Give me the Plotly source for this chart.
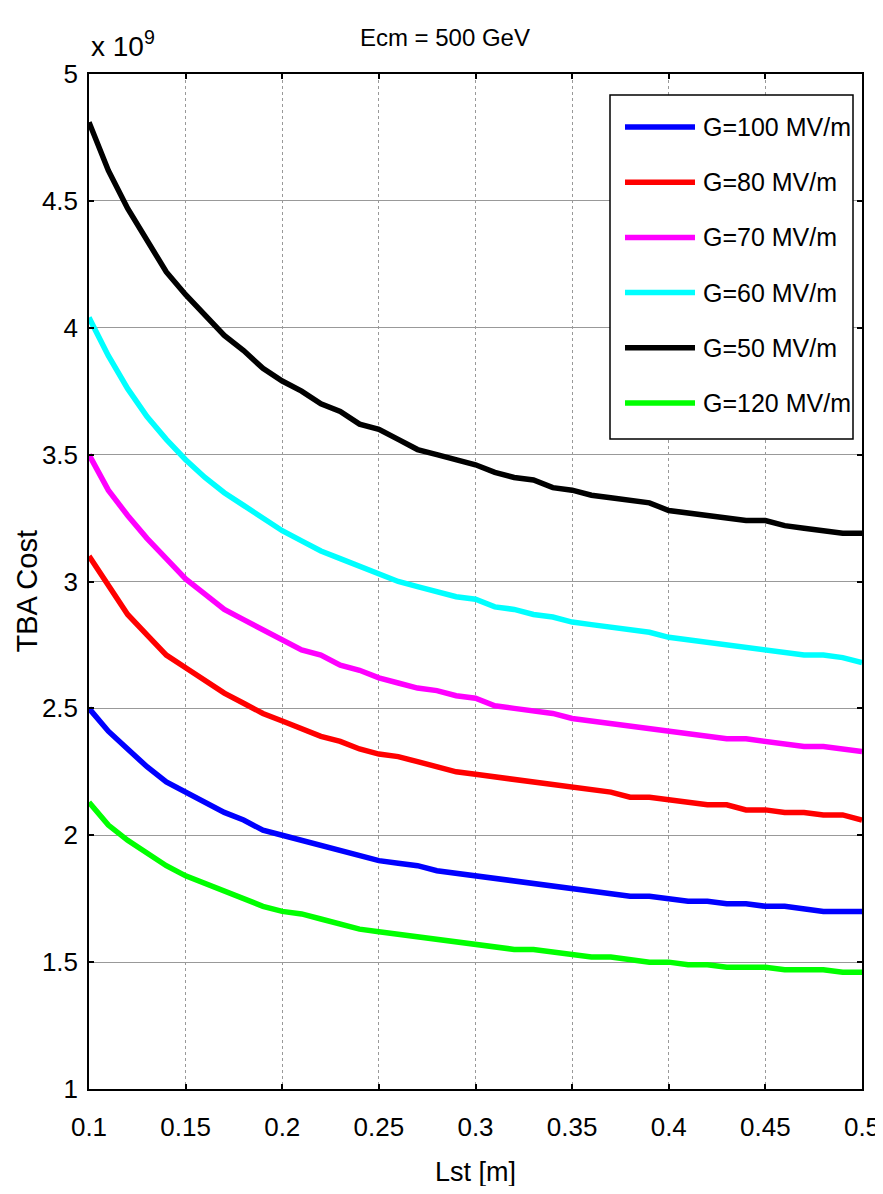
import plotly.graph_objects as go

# Lst [m]
lst = [round(0.10 + 0.01 * i, 2) for i in range(41)]

# TBA cost in units of 1e9
g100 = [2.50, 2.41, 2.34, 2.27, 2.21, 2.17, 2.13, 2.09, 2.06, 2.02, 2.00, 1.98, 1.96, 1.94, 1.92, 1.90,
        1.89, 1.88, 1.86, 1.85, 1.84, 1.83, 1.82, 1.81, 1.80, 1.79, 1.78, 1.77, 1.76, 1.76, 1.75, 1.74,
        1.74, 1.73, 1.73, 1.72, 1.72, 1.71, 1.70, 1.70, 1.70]
g80 = [3.10, 2.98, 2.87, 2.79, 2.71, 2.66, 2.61, 2.56, 2.52, 2.48, 2.45, 2.42, 2.39, 2.37, 2.34, 2.32,
       2.31, 2.29, 2.27, 2.25, 2.24, 2.23, 2.22, 2.21, 2.20, 2.19, 2.18, 2.17, 2.15, 2.15, 2.14, 2.13,
       2.12, 2.12, 2.10, 2.10, 2.09, 2.09, 2.08, 2.08, 2.06]
g70 = [3.50, 3.36, 3.26, 3.17, 3.09, 3.01, 2.95, 2.89, 2.85, 2.81, 2.77, 2.73, 2.71, 2.67, 2.65, 2.62,
       2.60, 2.58, 2.57, 2.55, 2.54, 2.51, 2.50, 2.49, 2.48, 2.46, 2.45, 2.44, 2.43, 2.42, 2.41, 2.40,
       2.39, 2.38, 2.38, 2.37, 2.36, 2.35, 2.35, 2.34, 2.33]
g60 = [4.04, 3.89, 3.76, 3.65, 3.56, 3.48, 3.41, 3.35, 3.30, 3.25, 3.20, 3.16, 3.12, 3.09, 3.06, 3.03,
       3.00, 2.98, 2.96, 2.94, 2.93, 2.90, 2.89, 2.87, 2.86, 2.84, 2.83, 2.82, 2.81, 2.80, 2.78, 2.77,
       2.76, 2.75, 2.74, 2.73, 2.72, 2.71, 2.71, 2.70, 2.68]
g50 = [4.81, 4.62, 4.47, 4.34, 4.22, 4.13, 4.05, 3.97, 3.91, 3.84, 3.79, 3.75, 3.70, 3.67, 3.62, 3.60,
       3.56, 3.52, 3.50, 3.48, 3.46, 3.43, 3.41, 3.40, 3.37, 3.36, 3.34, 3.33, 3.32, 3.31, 3.28, 3.27,
       3.26, 3.25, 3.24, 3.24, 3.22, 3.21, 3.20, 3.19, 3.19]
g120 = [2.13, 2.04, 1.98, 1.93, 1.88, 1.84, 1.81, 1.78, 1.75, 1.72, 1.70, 1.69, 1.67, 1.65, 1.63, 1.62,
        1.61, 1.60, 1.59, 1.58, 1.57, 1.56, 1.55, 1.55, 1.54, 1.53, 1.52, 1.52, 1.51, 1.50, 1.50, 1.49,
        1.49, 1.48, 1.48, 1.48, 1.47, 1.47, 1.47, 1.46, 1.46]

series_names = ["G=100 MV/m", "G=80 MV/m", "G=70 MV/m", "G=60 MV/m", "G=50 MV/m", "G=120 MV/m"]
series_values = [g100, g80, g70, g60, g50, g120]
series_colors = ["#0000ff", "#ff0000", "#ff00ff", "#00ffff", "#000000", "#00ff00"]

x_ticks = [0.1, 0.15, 0.2, 0.25, 0.3, 0.35, 0.4, 0.45, 0.5]
x_ticktext = ["0.1", "0.15", "0.2", "0.25", "0.3", "0.35", "0.4", "0.45", "0.5"]
y_ticks = [1, 1.5, 2, 2.5, 3, 3.5, 4, 4.5, 5]
y_ticktext = ["1", "1.5", "2", "2.5", "3", "3.5", "4", "4.5", "5"]

FONT = "Liberation Sans Narrow, Arial Narrow, Liberation Sans, Arial, sans-serif"
REG = "Liberation Sans, Arial, sans-serif"

# figure geometry (page has an 8px body margin)
W, H = 875, 1178
ML, MT, PW, PH = 81, 66, 773, 1015


def px_x(fx):
    return (fx - ML) / PW


def px_y(fy):
    return 1 - (fy - MT) / PH


fig = go.Figure()
for name, vals, color in zip(series_names, series_values, series_colors):
    fig.add_trace(go.Scatter(x=lst, y=vals, mode="lines", name=name,
                             line=dict(color=color, width=5.5)))

fig.update_layout(
    width=W, height=H,
    margin=dict(l=ML, r=W - ML - PW, t=MT, b=H - MT - PH),
    paper_bgcolor="white", plot_bgcolor="white",
    font=dict(family=FONT, color="black", size=26),
    title=dict(text="Ecm = 500 GeV", x=px_x(467), xanchor="center", y=1 - 30 / H, yanchor="middle",
               font=dict(family=FONT, size=24, color="black")),
    showlegend=False,
)

fig.update_xaxes(range=[0.1, 0.5], tickvals=x_ticks, ticktext=x_ticktext,
                 showline=True, linecolor="black", linewidth=1.5, mirror="ticks",
                 ticks="inside", ticklen=5, tickcolor="black", tickwidth=2,
                 showgrid=True, gridcolor="#999999", griddash="dot", gridwidth=1,
                 zeroline=False, ticklabelstandoff=14, automargin=False,
                 tickfont=dict(family=FONT, size=26))
fig.update_yaxes(range=[1, 5], tickvals=y_ticks, ticktext=y_ticktext,
                 showline=True, linecolor="black", linewidth=1.5, mirror="ticks",
                 ticks="inside", ticklen=5, tickcolor="black", tickwidth=2,
                 showgrid=True, gridcolor="#999999", gridwidth=1,
                 zeroline=False, ticklabelstandoff=4, automargin=False,
                 tickfont=dict(family=FONT, size=26))

# legend box, drawn to match the reference layout
fig.add_shape(type="rect", xref="paper", yref="paper",
              x0=px_x(602), x1=px_x(845), y0=px_y(431), y1=px_y(87),
              fillcolor="white", line=dict(color="black", width=1.5), layer="above")
for i, (name, color) in enumerate(zip(series_names, series_colors)):
    cy = 119 + 55.2 * i
    fig.add_shape(type="line", xref="paper", yref="paper",
                  x0=px_x(617), x1=px_x(687), y0=px_y(cy), y1=px_y(cy),
                  line=dict(color=color, width=5.5), layer="above")
    fig.add_annotation(text=name, xref="paper", yref="paper", x=px_x(693), y=px_y(cy),
                       xanchor="left", yanchor="middle", showarrow=False,
                       font=dict(family=FONT, size=25, color="black"))

# axis titles and exponent label
fig.add_annotation(text="Lst [m]", xref="paper", yref="paper", x=0.5, y=0.0,
                   xanchor="center", yanchor="middle", yshift=-83, showarrow=False,
                   font=dict(family=FONT, size=27, color="black"))
fig.add_annotation(text="TBA Cost", xref="paper", yref="paper", x=0.0, y=0.5,
                   xanchor="center", yanchor="middle", xshift=-63, yshift=-10, textangle=-90,
                   showarrow=False, font=dict(family=REG, size=29, color="black"))
fig.add_annotation(text="x 10<sup>9</sup>", xref="paper", yref="paper", x=0.0, y=1.0,
                   xanchor="left", yanchor="bottom", yshift=10, showarrow=False,
                   font=dict(family=FONT, size=28, color="black"))

fig.write_html("out.html")
